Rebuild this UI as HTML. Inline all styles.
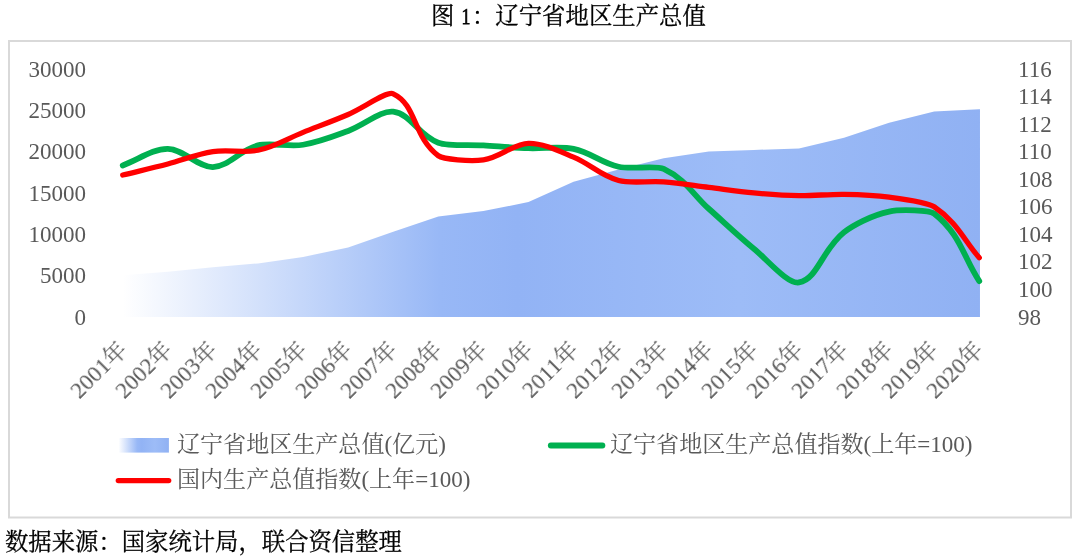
<!DOCTYPE html>
<html lang="zh"><head><meta charset="utf-8"><title>图 1：辽宁省地区生产总值</title>
<style>
html,body{margin:0;padding:0;background:#fff}
body{width:1080px;height:560px;position:relative;overflow:hidden;font-family:"Liberation Serif","Noto Serif CJK SC",serif;color:#595959}
#chart{position:absolute;left:0;top:0}
.t{position:absolute;white-space:nowrap;font-size:23.05px;line-height:1;will-change:transform}
.yl{text-align:right;width:80px;left:5.5px}
.yr{left:1017.8px}
.xl{transform-origin:100% 50%;transform:rotate(-45deg);text-align:right}
.k{color:#000;font-size:23.4px;font-weight:normal;-webkit-text-stroke:0.3px #000}
.one{display:inline-block;transform:scaleX(0.76);-webkit-text-stroke:0.75px #000}
</style></head><body>
<svg id="chart" width="1080" height="560" viewBox="0 0 1080 560">
<defs>
<linearGradient id="ag" x1="0" y1="0" x2="1" y2="0">
<stop offset="0" stop-color="#ffffff"/><stop offset="0.37" stop-color="#98b8f6"/><stop offset="0.46" stop-color="#92b3f5"/><stop offset="0.72" stop-color="#9dbcf7"/><stop offset="1" stop-color="#90b1f3"/>
</linearGradient>
</defs>
<rect x="9" y="41" width="1062" height="476.5" fill="#fff" stroke="#d9d9d9" stroke-width="2"/>
<path d="M122.75 275.31 L167.83 271.80 L212.91 267.30 L257.99 263.44 L303.07 256.91 L348.15 247.57 L393.23 231.85 L438.31 216.61 L483.39 211.01 L528.47 202.07 L573.55 181.76 L618.63 169.42 L663.71 158.18 L708.79 151.43 L753.87 149.90 L798.95 148.39 L844.03 137.64 L889.11 122.63 L934.19 111.51 L979.27 109.37 L979.97 109.37 L979.97 316.90 L122.75 316.90Z" fill="url(#ag)"/>
<path d="M122.75 165.41C137.78 159.90 153.16 148.61 167.83 148.88C183.21 149.16 198.67 167.60 212.91 167.06C228.73 166.45 239.88 149.92 257.99 145.44C269.93 142.48 289.47 146.93 303.07 144.75C319.52 142.11 334.28 136.06 348.15 130.97C364.33 125.04 381.02 110.11 393.23 111.69C411.07 114.01 418.12 135.13 438.31 142.68C448.18 146.37 468.36 144.52 483.39 145.44C498.42 146.35 513.38 147.61 528.47 148.19C543.44 148.76 560.78 146.25 573.55 148.88C590.84 152.44 601.37 162.96 618.63 166.78C631.43 169.62 655.70 165.12 663.71 168.85C685.76 179.12 693.76 195.47 708.79 208.79C723.82 222.10 737.33 235.21 753.87 248.73C767.39 259.77 787.74 284.52 798.95 282.47C817.79 279.02 822.37 249.24 844.03 232.20C852.43 225.60 871.25 215.23 889.11 211.54C901.30 209.03 929.91 210.30 934.19 213.61C959.96 233.49 964.24 258.60 979.27 281.09" fill="none" stroke="#00b050" stroke-width="5.8" stroke-linecap="round" stroke-linejoin="round"/>
<path d="M122.75 175.05C137.78 171.37 153.04 167.87 167.83 164.03C183.09 160.07 196.72 154.11 212.91 151.63C226.77 149.52 245.21 152.99 257.99 150.26C275.27 146.56 288.04 138.32 303.07 132.35C318.10 126.38 333.75 120.61 348.15 114.45C363.80 107.75 386.65 90.77 393.23 93.79C416.70 104.55 413.14 137.31 438.31 155.76C443.19 159.35 470.20 161.71 483.39 159.90C500.25 157.58 512.89 143.85 528.47 143.37C542.94 142.93 560.64 151.82 573.55 157.14C590.69 164.21 600.12 175.47 618.63 180.55C630.17 183.73 648.92 180.80 663.71 181.93C678.97 183.10 693.76 185.60 708.79 187.44C723.82 189.28 738.66 191.56 753.87 192.95C768.71 194.31 783.88 195.47 798.95 195.70C813.93 195.93 829.05 194.10 844.03 194.33C859.10 194.56 874.76 195.11 889.11 197.08C904.81 199.24 927.53 202.25 934.19 206.72C957.58 222.45 964.24 240.69 979.27 257.68" fill="none" stroke="#ff0000" stroke-width="5.3" stroke-linecap="round" stroke-linejoin="round"/>
<rect x="118.5" y="438" width="50.4" height="14.6" fill="url(#ag)"/>
<path d="M550.8 445.5H602.4" stroke="#00b050" stroke-width="5.8" stroke-linecap="round"/>
<path d="M118.3 480.6H168.7" stroke="#ff0000" stroke-width="5.3" stroke-linecap="round"/>
</svg>
<div class="t yl" style="top:57.68px">30000</div>
<div class="t yl" style="top:98.99px">25000</div>
<div class="t yl" style="top:140.31px">20000</div>
<div class="t yl" style="top:181.62px">15000</div>
<div class="t yl" style="top:222.94px">10000</div>
<div class="t yl" style="top:264.26px">5000</div>
<div class="t yl" style="top:305.57px">0</div>
<div class="t yr" style="top:57.68px">116</div>
<div class="t yr" style="top:85.22px">114</div>
<div class="t yr" style="top:112.76px">112</div>
<div class="t yr" style="top:140.31px">110</div>
<div class="t yr" style="top:167.85px">108</div>
<div class="t yr" style="top:195.40px">106</div>
<div class="t yr" style="top:222.94px">104</div>
<div class="t yr" style="top:250.49px">102</div>
<div class="t yr" style="top:278.03px">100</div>
<div class="t yr" style="top:305.57px">98</div>
<div class="t xl" style="right:957.00px;top:333.98px">2001年</div>
<div class="t xl" style="right:911.92px;top:333.98px">2002年</div>
<div class="t xl" style="right:866.84px;top:333.98px">2003年</div>
<div class="t xl" style="right:821.76px;top:333.98px">2004年</div>
<div class="t xl" style="right:776.68px;top:333.98px">2005年</div>
<div class="t xl" style="right:731.60px;top:333.98px">2006年</div>
<div class="t xl" style="right:686.52px;top:333.98px">2007年</div>
<div class="t xl" style="right:641.44px;top:333.98px">2008年</div>
<div class="t xl" style="right:596.36px;top:333.98px">2009年</div>
<div class="t xl" style="right:551.28px;top:333.98px">2010年</div>
<div class="t xl" style="right:506.20px;top:333.98px">2011年</div>
<div class="t xl" style="right:461.12px;top:333.98px">2012年</div>
<div class="t xl" style="right:416.04px;top:333.98px">2013年</div>
<div class="t xl" style="right:370.96px;top:333.98px">2014年</div>
<div class="t xl" style="right:325.88px;top:333.98px">2015年</div>
<div class="t xl" style="right:280.80px;top:333.98px">2016年</div>
<div class="t xl" style="right:235.72px;top:333.98px">2017年</div>
<div class="t xl" style="right:190.64px;top:333.98px">2018年</div>
<div class="t xl" style="right:145.56px;top:333.98px">2019年</div>
<div class="t xl" style="right:100.48px;top:333.98px">2020年</div>
<div class="t" style="left:176.5px;top:432.88px">辽宁省地区生产总值(亿元)</div>
<div class="t" style="left:610.2px;top:432.88px">辽宁省地区生产总值指数(上年=100)</div>
<div class="t" style="left:176.5px;top:468.38px">国内生产总值指数(上年=100)</div>
<div class="t k" style="left:431px;top:5.40px">图 <span class="one">1</span>：辽宁省地区生产总值</div>
<div class="t k" style="left:5px;font-size:23.35px;top:531.30px">数据来源：国家统计局，联合资信整理</div>
</body></html>
